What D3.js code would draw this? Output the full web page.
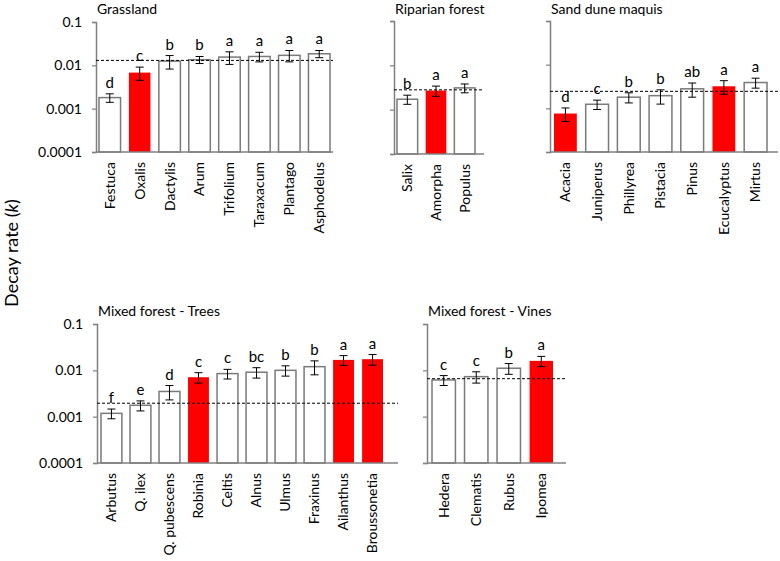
<!DOCTYPE html>
<html>
<head>
<meta charset="utf-8">
<script src="https://cdn.jsdelivr.net/npm/d3@7"></script>
<style>
  body { margin: 0; background: #fff; }
  text { font-family: Lato, "Liberation Sans", sans-serif; fill: #000; }
</style>
</head>
<body>
<svg width="780" height="561"></svg>
<script>
// data
var tickLabels = ["0.1", "0.01", "0.001", "0.0001"];
var tickValues = [0.1, 0.01, 0.001, 0.0001];

var grassSpecies = ["Festuca", "Oxalis", "Dactylis", "Arum", "Trifolium", "Taraxacum", "Plantago", "Asphodelus"];
var grassK = [0.0018, 0.0068, 0.0125, 0.0135, 0.0155, 0.016, 0.017, 0.0185];
var grassSE = [0.0004, 0.0023, 0.0043, 0.0025, 0.005, 0.004, 0.005, 0.0035];
var grassLetters = ["d", "c", "b", "b", "a", "a", "a", "a"];
var grassAlien = [0, 1, 0, 0, 0, 0, 0, 0];
var grassMean = 0.013;

var ripSpecies = ["Salix", "Amorpha", "Populus"];
var ripK = [0.00172, 0.0027, 0.0031];
var ripSE = [0.0004, 0.0007, 0.0007];
var ripLetters = ["b", "a", "a"];
var ripAlien = [0, 1, 0];
var ripMean = 0.0028;

var duneSpecies = ["Acacia", "Juniperus", "Phillyrea", "Pistacia", "Pinus", "Ecucalyptus", "Mirtus"];
var duneK = [0.00076, 0.00124, 0.0018, 0.00195, 0.0028, 0.0032, 0.0039];
var duneSE = [0.00026, 0.0003, 0.00047, 0.0007, 0.001, 0.0011, 0.001];
var duneLetters = ["d", "c", "b", "b", "ab", "a", "a"];
var duneAlien = [1, 0, 0, 0, 0, 1, 0];
var duneMean = 0.00245;

var treeSpecies = ["Arbutus", "Q. ilex", "Q. pubescens", "Robinia", "Celtis", "Alnus", "Ulmus", "Fraxinus", "Ailanthus", "Broussonetia"];
var treeK = [0.00118, 0.00176, 0.0035, 0.0071, 0.0085, 0.0091, 0.01, 0.012, 0.0168, 0.0174];
var treeSE = [0.00028, 0.00043, 0.0012, 0.0018, 0.002, 0.0023, 0.0025, 0.004, 0.004, 0.0045];
var treeLetters = ["f", "e", "d", "c", "c", "bc", "b", "b", "a", "a"];
var treeAlien = [0, 0, 0, 1, 0, 0, 0, 0, 1, 1];
var treeMean = 0.00195;

var vineSpecies = ["Hedera", "Clematis", "Rubus", "Ipomea"];
var vineK = [0.0062, 0.0073, 0.0111, 0.016];
var vineSE = [0.0015, 0.002, 0.0029, 0.004];
var vineLetters = ["c", "c", "b", "a"];
var vineAlien = [0, 0, 0, 1];
var vineMean = 0.0066;

var svg = d3.select("svg");

// panel placement
var panels = [
    {title: "Grassland", sp: grassSpecies, k: grassK, se: grassSE, let: grassLetters, alien: grassAlien, mean: grassMean,
     ax0: 96, ax1: 333, b0: 99, b1: 330, top: 22, base: 152, labels: true},
    {title: "Riparian forest", sp: ripSpecies, k: ripK, se: ripSE, let: ripLetters, alien: ripAlien, mean: ripMean,
     ax0: 394, ax1: 484, b0: 397, b1: 475, top: 21, base: 154, labels: false},
    {title: "Sand dune maquis", sp: duneSpecies, k: duneK, se: duneSE, let: duneLetters, alien: duneAlien, mean: duneMean,
     ax0: 550, ax1: 778, b0: 554, b1: 767, top: 21, base: 152, labels: false},
    {title: "Mixed forest - Trees", sp: treeSpecies, k: treeK, se: treeSE, let: treeLetters, alien: treeAlien, mean: treeMean,
     ax0: 97, ax1: 398, b0: 101, b1: 383, top: 324, base: 463, labels: true},
    {title: "Mixed forest - Vines", sp: vineSpecies, k: vineK, se: vineSE, let: vineLetters, alien: vineAlien, mean: vineMean,
     ax0: 427, ax1: 566, b0: 432, b1: 553, top: 324, base: 463, labels: false}
];

panels.forEach(function(p) {
    var g = svg.append("g");
    var x = d3.scaleBand().domain(p.sp).range([p.b0, p.b1]).paddingInner(0.28).paddingOuter(0);
    var y = d3.scaleLog().domain([0.0001, 0.1]).range([p.base, p.top]);

    var rows = p.sp.map(function(s, i) {
        return {sp: s, k: p.k[i], se: p.se[i], let: p.let[i], alien: p.alien[i]};
    });

    g.selectAll(".bar").data(rows).enter().append("rect")
        .attr("class", "bar")
        .attr("x", d => x(d.sp))
        .attr("width", x.bandwidth())
        .attr("y", d => y(d.k))
        .attr("height", d => p.base - y(d.k))
        .attr("fill", d => d.alien ? "#ff0000" : "#fff")
        .attr("stroke", d => d.alien ? "none" : "#7a7a7a")
        .attr("stroke-width", 1.5);

    // y axis
    var yAxis = d3.axisLeft(y).tickValues(tickValues).tickSize(4).tickPadding(10)
        .tickFormat((v, i) => p.labels ? tickLabels[i] : "");
    var ya = g.append("g").attr("transform", "translate(" + p.ax0 + ",0)").call(yAxis);
    ya.select(".domain").attr("stroke", "#808080").attr("stroke-width", 1.5);
    ya.selectAll(".tick line").attr("stroke", "#808080").attr("stroke-width", 1.2);
    ya.selectAll(".tick text").style("font-size", "14px").attr("fill", "#000");

    // x baseline
    g.append("line")
        .attr("x1", p.ax0).attr("x2", p.ax1)
        .attr("y1", p.base).attr("y2", p.base)
        .attr("stroke", "#808080").attr("stroke-width", 1.5);

    // error bars
    var eb = g.selectAll(".eb").data(rows).enter().append("g").attr("class", "eb")
        .attr("stroke", "#000").attr("stroke-width", 1);
    eb.append("line")
        .attr("x1", d => x(d.sp) + x.bandwidth() / 2).attr("x2", d => x(d.sp) + x.bandwidth() / 2)
        .attr("y1", d => y(d.k + d.se)).attr("y2", d => y(d.k - d.se));
    eb.append("line")
        .attr("x1", d => x(d.sp) + x.bandwidth() / 2 - 4).attr("x2", d => x(d.sp) + x.bandwidth() / 2 + 4)
        .attr("y1", d => y(d.k + d.se)).attr("y2", d => y(d.k + d.se));
    eb.append("line")
        .attr("x1", d => x(d.sp) + x.bandwidth() / 2 - 4).attr("x2", d => x(d.sp) + x.bandwidth() / 2 + 4)
        .attr("y1", d => y(d.k - d.se)).attr("y2", d => y(d.k - d.se));

    // letters
    g.selectAll(".let").data(rows).enter().append("text")
        .attr("x", d => x(d.sp) + x.bandwidth() / 2)
        .attr("y", d => y(d.k + d.se) - 6)
        .attr("text-anchor", "middle")
        .style("font-size", "15px")
        .text(d => d.let);

    // mean line
    g.append("line")
        .attr("x1", p.ax0).attr("x2", p.ax1)
        .attr("y1", y(p.mean)).attr("y2", y(p.mean))
        .attr("stroke", "#000").attr("stroke-width", 1)
        .attr("stroke-dasharray", "3,2");

    // species names
    g.selectAll(".sp").data(rows).enter().append("text")
        .attr("transform", d => "translate(" + (x(d.sp) + x.bandwidth() / 2) + "," + (p.base + 10) + ") rotate(-90)")
        .attr("dy", "0.35em")
        .attr("text-anchor", "end")
        .style("font-size", "14px")
        .text(d => d.sp);

    g.append("text")
        .attr("x", p.ax0 + 1)
        .attr("y", Math.max(p.top - 8, 14))
        .style("font-size", "14px")
        .text(p.title);
});

// y axis title
var yt = svg.append("text")
    .attr("transform", "translate(18,253) rotate(-90)")
    .attr("text-anchor", "middle")
    .style("font-size", "18px");
yt.append("tspan").text("Decay rate (");
yt.append("tspan").style("font-style", "italic").text("k");
yt.append("tspan").text(")");
</script>
</body>
</html>
